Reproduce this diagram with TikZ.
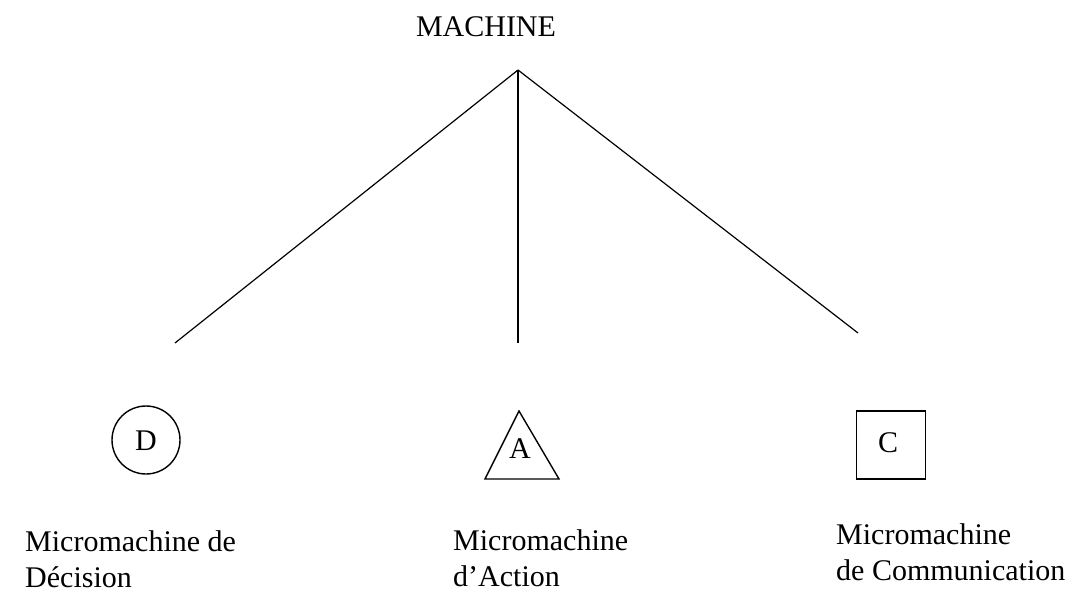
\documentclass[tikz,border=0pt]{standalone}
\usepackage{fontspec}
\setmainfont{Liberation Serif}
\usetikzlibrary{shapes.geometric}
\begin{document}
\begin{tikzpicture}[x=1pt,y=-1pt,
  every node/.style={font=\fontsize{30}{36}\selectfont, inner sep=0pt},
  link/.style={line width=1.2pt},
  shapeline/.style={line width=1.4pt},
  lbl/.style={anchor=base west, align=left}]
\useasboundingbox (0,0) rectangle (1084,596);
\node[anchor=base] (machine) at (486,37) {MACHINE};
\coordinate (apex) at (518,70);
\coordinate (endD) at (175,343);
\coordinate (endA) at (518,343);
\coordinate (endC) at (858,333);
\draw[link] (apex) -- (endD);
\draw[link] (apex) -- (endA);
\draw[link] (apex) -- (endC);
% D circle
\node[draw, shapeline, circle, minimum size=68pt] (D) at (146,440) {};
\node (Dl) at (146,441) {D};
% A triangle
\coordinate (At) at (519,411);
\coordinate (Al) at (485,479);
\coordinate (Ar) at (559,479);
\draw[shapeline] (At) -- (Al) -- (Ar) -- cycle;
\node (Alab) at (520,449) {A};
% C square
\node[draw, shapeline, minimum width=69pt, minimum height=68pt] (C) at (891,445) {};
\node (Cl) at (888,443) {C};
% labels (base = last line)
\node[lbl] (lD) at (25,587) {Micromachine de\\Décision};
\node[lbl] (lA) at (453,586) {Micromachine\\d’Action};
\node[lbl] (lC) at (836,580) {Micromachine\\de Communication};
\end{tikzpicture}
\end{document}
